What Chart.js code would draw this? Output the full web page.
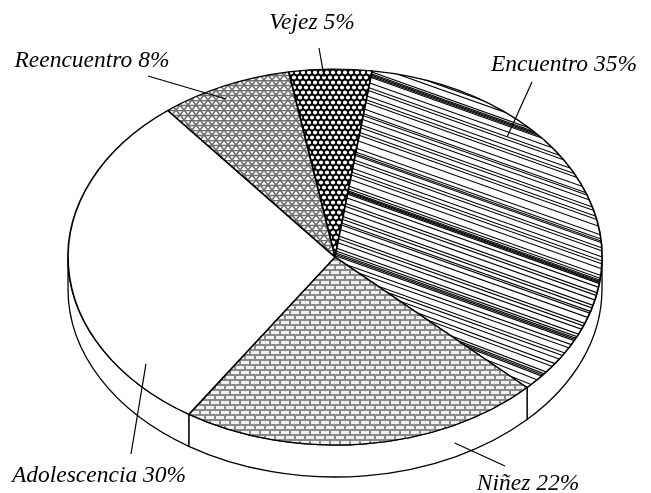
<!DOCTYPE html>
<html>
<head>
<meta charset="utf-8">
<script src="https://cdn.jsdelivr.net/npm/chart.js@4.4.0/dist/chart.umd.min.js"></script>
<style>
  html, body { margin: 0; padding: 0; background: #fff; }
  canvas { display: block; }
</style>
</head>
<body>
<canvas id="grafico" width="651" height="493"></canvas>
<script>
const etapas = ['Vejez', 'Encuentro', 'Niñez', 'Adolescencia', 'Reencuentro'];
const porcentajes = [5, 35, 22, 30, 8];
const rotulos = ['Vejez 5%', 'Encuentro 35%', 'Niñez 22%', 'Adolescencia 30%', 'Reencuentro 8%'];

// tamaño de la elipse superior y espesor del disco
const RX = 267, RY = 188, PROF = 32;

// texto (centro, base), punta exterior de la guía, punta interior relativa al sector
const posRotulos = [
  { x: 312, y: 29, ox: 319, oy: 48, f: 0.42, r: 0.96 },
  { x: 564, y: 71, ox: 532, oy: 82, f: 0.295, r: 0.91 },
  { x: 528, y: 490, ox: 505, oy: 466, f: 0.273, r: 1.086 },
  { x: 99, y: 482, ox: 131, oy: 454, f: 0.167, r: 0.908 },
  { x: 92, y: 67, ox: 148, oy: 76, f: 0.448, r: 0.934 }
];

function lienzo(w, h) {
  const c = document.createElement('canvas');
  c.width = w; c.height = h;
  return c;
}

function patronVejez(ctx) {
  const c = lienzo(6, 10);
  const g = c.getContext('2d');
  g.fillStyle = '#000';
  g.fillRect(0, 0, 6, 10);
  g.fillStyle = '#fff';
  [[3, 2.5], [0, 7.5], [6, 7.5]].forEach(p => {
    g.beginPath(); g.arc(p[0], p[1], 2.1, 0, Math.PI * 2); g.fill();
  });
  return ctx.createPattern(c, 'repeat');
}

function patronReencuentro(ctx) {
  const c = lienzo(8, 10);
  const g = c.getContext('2d');
  g.fillStyle = '#fff';
  g.fillRect(0, 0, 8, 10);
  g.strokeStyle = '#6e6e6e';
  g.lineWidth = 1.6;
  g.beginPath();
  g.moveTo(0, 0.5); g.lineTo(8, 0.5);
  g.moveTo(0, 5.5); g.lineTo(8, 5.5);
  g.moveTo(0, 0); g.lineTo(8, 10);
  g.moveTo(8, 0); g.lineTo(0, 10);
  g.stroke();
  return ctx.createPattern(c, 'repeat');
}

function patronNinez(ctx) {
  const c = lienzo(10, 10);
  const g = c.getContext('2d');
  g.fillStyle = '#8a8a8a';
  g.fillRect(0, 0, 10, 10);
  g.fillStyle = '#f2f2f2';
  g.fillRect(1, 1, 8, 3);
  g.fillRect(6, 6, 4, 3);
  g.fillRect(0, 6, 4, 3);
  return ctx.createPattern(c, 'repeat');
}

function patronEncuentro(ctx) {
  const c = lienzo(651, 493);
  const g = c.getContext('2d');
  g.fillStyle = '#fff';
  g.fillRect(0, 0, 651, 493);
  const saltos = [6,4,7,2,1.2,1.2,1.2,6,5,3,6,4,3,7,5,2,4,6,3,5,3,6,8,4,2,1.5,5,3,6,4,3,
                  5,7,3,2,1.2,1.2,1.2,4,6,3,5,6,3,4,2,5,7,3,4,6,3,2,1.5,1.5,5,4,6,3,4,
                  5,3,6,2,1.2,1.2,4,5,3,6,4,3,2,5,4,3];
  g.strokeStyle = '#000';
  g.lineWidth = 1.1;
  let y0 = 42;
  saltos.forEach(s => {
    y0 += s;
    const k = Math.max(0, (y0 - 260) / 70);
    const m = 0.355 + 0.12 * k * k;
    g.beginPath();
    g.moveTo(300, y0 + m * (300 - 335));
    g.lineTo(651, y0 + m * (651 - 335));
    g.stroke();
  });
  return ctx.createPattern(c, 'no-repeat');
}

const ctx = document.getElementById('grafico').getContext('2d');
const patrones = [patronVejez(ctx), patronEncuentro(ctx), patronNinez(ctx), '#ffffff', patronReencuentro(ctx)];

const pastel3d = {
  id: 'pastel3d',
  beforeDatasetsDraw(chart) {
    const arcs = chart.getDatasetMeta(0).data;
    const cx = arcs[0].x, cy = arcs[0].y, R = arcs[0].outerRadius;
    const c = chart.ctx;
    // pared lateral visible (mitad delantera)
    c.save();
    c.lineWidth = 1.3;
    c.strokeStyle = '#000';
    c.fillStyle = '#fff';
    arcs.forEach(arc => {
      [0, 2 * Math.PI, -2 * Math.PI].forEach(sh => {
        const a = Math.max(arc.startAngle + sh, 0);
        const b = Math.min(arc.endAngle + sh, Math.PI);
        if (b <= a) return;
        c.beginPath();
        c.ellipse(cx, cy, RX, RY, 0, a, b);
        c.lineTo(cx + RX * Math.cos(b), cy + RY * Math.sin(b) + PROF);
        c.ellipse(cx, cy + PROF, RX, RY, 0, b, a, true);
        c.closePath();
        c.fill();
        c.stroke();
      });
    });
    c.restore();
    const m = new DOMMatrix().translate(cx, cy).scale(RX / R, RY / R).translate(-cx, -cy);
    const inv = m.inverse();
    patrones.forEach(p => { if (p && p.setTransform) p.setTransform(inv); });
    c.save();
    c.translate(cx, cy);
    c.scale(RX / R, RY / R);
    c.translate(-cx, -cy);
  },
  afterDatasetsDraw(chart) {
    chart.ctx.restore();
  },
  afterDraw(chart) {
    const arcs = chart.getDatasetMeta(0).data;
    const cx = arcs[0].x, cy = arcs[0].y;
    const c = chart.ctx;
    c.save();
    c.strokeStyle = '#000';
    c.lineWidth = 1.2;
    c.fillStyle = '#000';
    c.font = 'italic 23.5px "Liberation Serif", "Times New Roman", serif';
    c.textAlign = 'center';
    c.textBaseline = 'alphabetic';
    posRotulos.forEach((p, i) => {
      const arc = arcs[i];
      const t = arc.startAngle + p.f * (arc.endAngle - arc.startAngle);
      c.beginPath();
      c.moveTo(p.ox, p.oy);
      c.lineTo(cx + RX * p.r * Math.cos(t), cy + RY * p.r * Math.sin(t));
      c.stroke();
      c.fillText(rotulos[i], p.x, p.y);
    });
    c.restore();
  }
};

new Chart(ctx, {
  type: 'pie',
  data: {
    labels: etapas,
    datasets: [{
      data: porcentajes,
      backgroundColor: patrones,
      borderColor: '#000',
      borderWidth: 1.5,
      clip: false
    }]
  },
  options: {
    responsive: false,
    animation: false,
    rotation: -10,
    layout: { padding: { left: 19, right: 0, top: 21, bottom: 0 } },
    plugins: {
      legend: { display: false },
      tooltip: { enabled: false }
    },
    events: []
  },
  plugins: [pastel3d]
});
</script>
</body>
</html>
